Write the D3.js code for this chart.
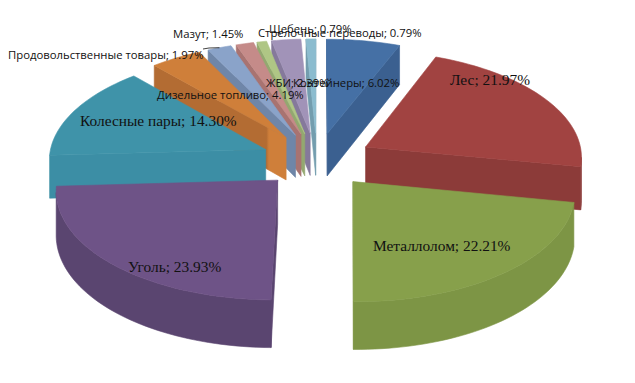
<!DOCTYPE html>
<html>
<head>
<meta charset="utf-8">
<style>
  html, body { margin: 0; padding: 0; background: #fff; }
  svg { display: block; }
  .big { font-family: "Liberation Serif", serif; font-size: 15.4px; fill: #111; }
  .small { font-family: "Open Sans", sans-serif; font-size: 11.3px; fill: #111; }
</style>
<script src="https://cdn.jsdelivr.net/npm/d3@7"></script>
</head>
<body>
<svg id="chart" width="635" height="383"></svg>
<script>
const categories = ['Контейнеры', 'Лес', 'Металлолом', 'Уголь', 'Колесные пары', 'Дизельное топливо',
    'Продовольственные товары', 'Мазут', 'Стрелочные переводы', 'ЖБИ', 'Щебень'];
const shares = [6.02, 21.97, 22.21, 23.93, 14.30, 4.19, 1.97, 1.45, 0.79, 2.39, 0.79];
const shareLabels = ['6.02%', '21.97%', '22.21%', '23.93%', '14.30%', '4.19%', '1.97%', '1.45%', '0.79%', '2.39%', '0.79%'];

const topColors = ['#4570a5', '#a14341', '#87a04b', '#6e5387', '#3f93a9', '#cf7f3a', '#8aa3c9', '#c58b89', '#afc685', '#a193b8', '#8bbccf'];
const wallColors = ['#3b6090', '#8c3b39', '#7d9545', '#5a4570', '#3c8ea5', '#b36c33', '#6f86a8', '#a87371', '#93a870', '#85799b', '#739dae'];
const labelX = [293, 450, 373, 128, 80, 157, 8, 173, 258, 266, 269];
const labelY = [87, 85, 251, 272, 126, 99, 59, 38, 37, 87, 33];
const labelClass = ['small', 'big', 'big', 'big', 'big', 'small', 'small', 'small', 'small', 'small', 'small'];

const cx = 317, cy = 160, radius = 217, explode = 56, thickness = 43, tilt = 0.49, persp = 0.083;

const svg = d3.select('#chart');

// world coords: wx to the right, wy away from the viewer, wz up
function project(wx, wy, wz) {
    const s = 1 / (1 + persp * wy / radius);
    return [cx + wx * s, cy - wy * tilt * s - wz * s];
}

const pie = d3.pie().sort(null).startAngle(0).endAngle(2 * Math.PI);
const line = d3.line().curve(d3.curveLinearClosed);

const slices = pie(shares).map((d, i) => {
    const mid = (d.startAngle + d.endAngle) / 2;
    const ox = Math.sin(mid) * explode, oy = Math.cos(mid) * explode;
    return { i, a0: d.startAngle, a1: d.endAngle, ox, oy };
});

function rim(s, a, z) {
    return project(s.ox + Math.sin(a) * radius, s.oy + Math.cos(a) * radius, z);
}

function arcAngles(s) {
    const n = Math.max(2, Math.ceil((s.a1 - s.a0) / 0.03));
    return d3.range(n + 1).map(k => s.a0 + (s.a1 - s.a0) * k / n);
}

function isFacing(pts) {
    return d3.polygonArea(pts) > 0;
}

function drawFace(pts, color) {
    if (!isFacing(pts)) return; // turned away from the viewer
    svg.append('path').attr('d', line(pts)).attr('fill', color).attr('stroke', color).attr('stroke-width', 0.6);
}

// outer wall as one path per visible run, no seams between the segments
function drawWall(s, angles, color) {
    let run = [];
    const flush = () => {
        if (run.length > 1) {
            const pts = run.map(a => rim(s, a, 0)).concat(run.slice().reverse().map(a => rim(s, a, -thickness)));
            svg.append('path').attr('d', line(pts)).attr('fill', color).attr('stroke', color).attr('stroke-width', 0.6);
        }
        run = [];
    };
    d3.pairs(angles).forEach(([a, b]) => {
        if (isFacing([rim(s, a, 0), rim(s, b, 0), rim(s, b, -thickness), rim(s, a, -thickness)])) {
            if (!run.length) run.push(a);
            run.push(b);
        } else {
            flush();
        }
    });
    flush();
}

// the cut face of the diesel slice gets lighter next to the apex
const defs = svg.append('defs');
function apexGradient(s) {
    const from = rim(s, s.a0, 0), to = project(s.ox, s.oy, 0);
    const g = defs.append('linearGradient').attr('id', 'cut' + s.i)
        .attr('gradientUnits', 'userSpaceOnUse')
        .attr('x1', from[0]).attr('y1', 0).attr('x2', to[0]).attr('y2', 0);
    g.append('stop').attr('offset', 0.85).attr('stop-color', wallColors[s.i]);
    g.append('stop').attr('offset', 0.87).attr('stop-color', topColors[s.i]);
    return 'url(#cut' + s.i + ')';
}

// back slices first
slices.slice().sort((a, b) => b.oy - a.oy).forEach(s => {
    const apexTop = project(s.ox, s.oy, 0), apexBot = project(s.ox, s.oy, -thickness);
    const wall = wallColors[s.i];
    const cut = categories[s.i] === 'Дизельное топливо' ? apexGradient(s) : wall;

    drawFace([apexTop, rim(s, s.a0, 0), rim(s, s.a0, -thickness), apexBot], cut);
    drawFace([rim(s, s.a1, 0), apexTop, apexBot, rim(s, s.a1, -thickness)], wall);

    const angles = arcAngles(s);
    drawWall(s, angles, wall);

    const top = [apexTop].concat(angles.map(a => rim(s, a, 0)));
    svg.append('path').attr('d', line(top)).attr('fill', topColors[s.i])
        .attr('stroke', topColors[s.i]).attr('stroke-width', 0.6);
});

// leader line of the food label
const foodSlice = slices[categories.indexOf('Продовольственные товары')];
const leaderEnd = rim(foodSlice, (foodSlice.a0 + foodSlice.a1) / 2, 0);
svg.append('path')
    .attr('d', d3.line()([[203, 49], [209, 48], leaderEnd]))
    .attr('fill', 'none').attr('stroke', '#111').attr('stroke-width', 0.8);

categories.forEach((name, i) => {
    svg.append('text')
        .attr('class', labelClass[i])
        .attr('x', labelX[i])
        .attr('y', labelY[i])
        .text(name + '; ' + shareLabels[i]);
});
</script>
</body>
</html>
